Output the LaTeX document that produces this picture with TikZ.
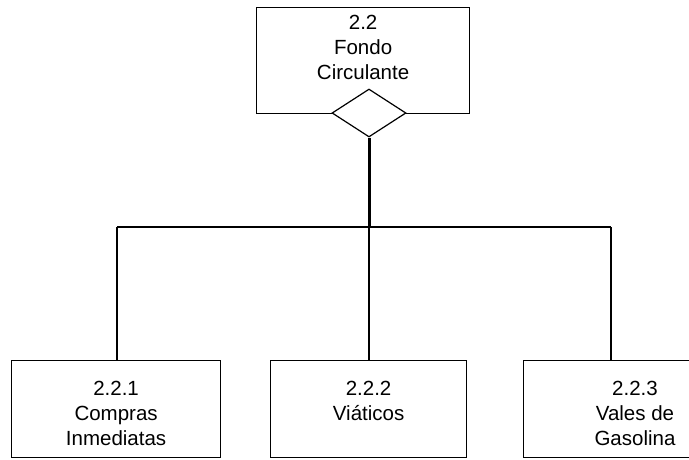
\documentclass[tikz,border=0pt]{standalone}
\usepackage{fontspec}
\setmainfont{Liberation Sans}
\usetikzlibrary{shapes.geometric}
\begin{document}
\begin{tikzpicture}[x=1pt,y=-1pt,
  box/.style={draw=black,line width=1.2pt,rectangle,inner sep=0pt,anchor=north west},
  lbl/.style={anchor=north,inner sep=0pt,align=center,font=\fontsize{20.5}{25}\selectfont},
  conn/.style={draw=black,line width=1.2pt},
  thickconn/.style={draw=black,line width=3pt}]
\useasboundingbox (0,0) rectangle (689,459);
% top box
\node[box,minimum width=213pt,minimum height=106pt] (top) at (256,7) {};
\node[lbl] (toplbl) at ([yshift=-8pt]top.north) {2.2\\Fondo\\Circulante};
\node[draw=black,line width=1.2pt,fill=white,diamond,inner sep=0pt,minimum width=74pt,minimum height=48pt] (dia) at (369,113) {};
% bottom boxes
\node[box,minimum width=209pt,minimum height=97pt] (b1) at (11,360) {};
\node[box,minimum width=196pt,minimum height=97pt] (b2) at (270,360) {};
\node[box,minimum width=225pt,minimum height=97pt] (b3) at (523,360) {};
\node[lbl] (l1) at ([yshift=-21pt]b1.north) {2.2.1\\Compras\\Inmediatas};
\node[lbl] (l2) at ([yshift=-21pt]b2.north) {2.2.2\\Viáticos};
\node[lbl] (l3) at (635,381) {2.2.3\\Vales de\\Gasolina};
% connectors
\coordinate (j) at (369,227);
\coordinate (d1) at (117,227);
\coordinate (d3) at (611,227);
\draw[thickconn] (dia.south) -- (j);
\draw[conn] (d1) -- (d3);
\draw[conn] (d1) -- (d1 |- b1.north);
\draw[conn] (j) -- (j |- b2.north);
\draw[conn] (d3) -- (d3 |- b3.north);
\end{tikzpicture}
\end{document}
